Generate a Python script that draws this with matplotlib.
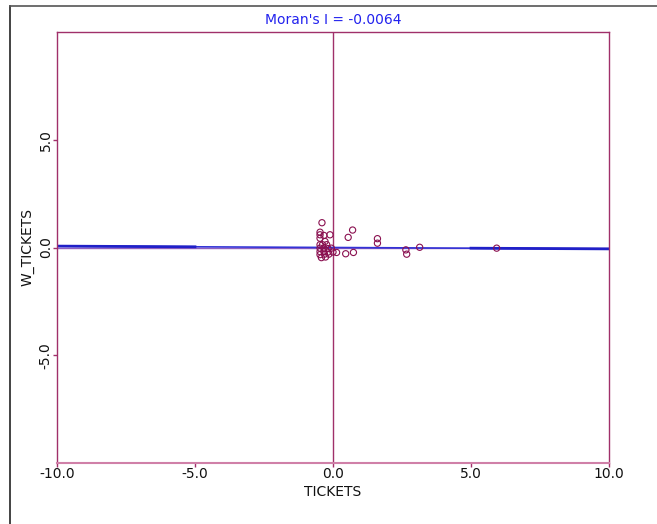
import matplotlib
matplotlib.use('Agg')
import matplotlib.pyplot as plt
from matplotlib.lines import Line2D

# Standardized TICKETS vs spatial lag W_TICKETS
tickets = [-0.40, 0.71, 0.55, 1.61, 1.61, 2.64, 2.67, 3.14, 0.74, 0.46, 0.13, 5.93, -0.11,
           -0.47, -0.47, -0.33, -0.47, -0.29,
           -0.47, -0.38, -0.23,
           -0.47, -0.33, -0.18, -0.06,
           -0.47, -0.33, -0.18, 0.00,
           -0.47, -0.31, -0.15,
           -0.42, -0.27]
w_tickets = [1.15, 0.81, 0.47, 0.41, 0.20, -0.11, -0.31, 0.01, -0.23, -0.29, -0.23, -0.03, 0.59,
             0.71, 0.59, 0.56, 0.43, 0.28,
             0.13, 0.13, 0.13,
             -0.03, -0.03, -0.05, -0.03,
             -0.19, -0.19, -0.21, -0.21,
             -0.33, -0.31, -0.31,
             -0.47, -0.44]
morans_i = -0.0064

x_ticks = [-10, -5, 0, 5, 10]
y_ticks = [-5, 0, 5]

frame = '#a0306a'
blue = '#3333d6'

fig = plt.figure(figsize=(6.57, 5.24), dpi=100)
ax = fig.add_axes([57/657, 61/524, 552/657, 431/524])

# window border
fig.add_artist(Line2D([9.5/657, 9.5/657], [0, 1 - 6/524], color='#222222', lw=1.2))
fig.add_artist(Line2D([9.5/657, 1], [1 - 6/524, 1 - 6/524], color='#555555', lw=1.2))

# mean lines
ax.axvline(0, color=frame, lw=1.0, zorder=1)
ax.axhline(0, color='#9060c0', lw=1.0, zorder=1)

# regression line
ax.plot([-10, 10], [-10 * morans_i, 10 * morans_i], color=blue, lw=1.2, zorder=2)
ax.plot([-10, -5], [-10 * morans_i, -5 * morans_i], color='#2020c8', lw=2.0, zorder=2)
ax.plot([5, 10], [5 * morans_i, 10 * morans_i], color='#2020c8', lw=2.0, zorder=2)

ax.scatter(tickets, w_tickets, s=20, facecolors='none', edgecolors='#8a1050',
           linewidths=0.8, zorder=3)

ax.set_xlim(-10, 10)
ax.set_ylim(-10, 10)
ax.set_xticks(x_ticks)
ax.set_xticklabels(['%.1f' % v for v in x_ticks], fontsize=10, color='#111111')
ax.set_yticks(y_ticks)
ax.set_yticklabels(['%.1f' % v for v in y_ticks], fontsize=10, color='#111111',
                   rotation=90, va='center')
ax.tick_params(axis='both', colors=frame, length=3, width=1, labelcolor='#111111', pad=0)
for s in ax.spines.values():
    s.set_color(frame)
    s.set_linewidth(1.0)
ax.spines['bottom'].set_color('#d080a8')
ax.spines['bottom'].set_linewidth(1.5)

ax.set_xlabel('TICKETS', fontsize=10, color='#111111', labelpad=3)
ax.set_ylabel('W_TICKETS', fontsize=10, color='#111111', labelpad=3)
ax.set_title("Moran's I = %.4f" % morans_i, fontsize=10, color='#2222ee', pad=6)

fig.savefig('out.png', dpi=100)
